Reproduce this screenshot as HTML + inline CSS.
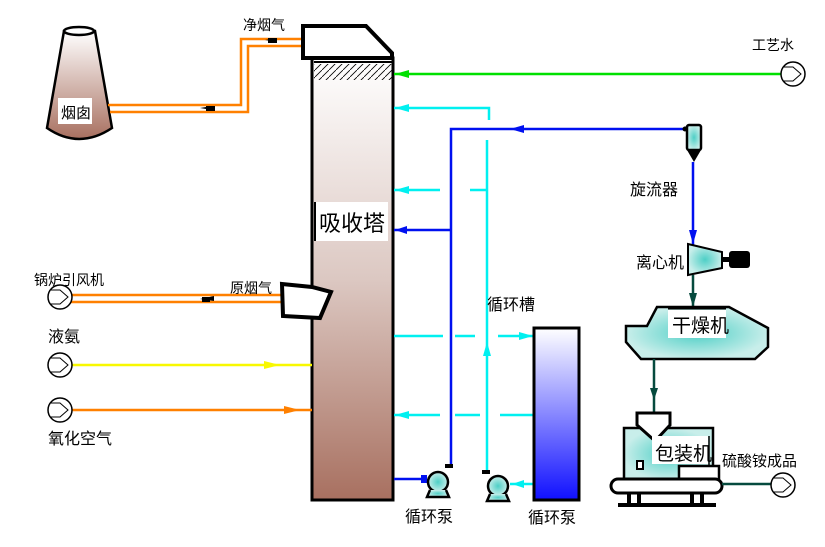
<!DOCTYPE html>
<html><head><meta charset="utf-8"><style>
body{margin:0;background:#fff}
svg{display:block}
text{font-family:"Liberation Sans","WenQuanYi Zen Hei","Noto Sans CJK SC",sans-serif;fill:#000}
</style></head><body>
<svg width="825" height="547" viewBox="0 0 825 547" xmlns="http://www.w3.org/2000/svg">
<defs>
<linearGradient id="tw" x1="0" y1="0" x2="0" y2="1"><stop offset="0" stop-color="#fff"/><stop offset="0.5" stop-color="#dcc8c2"/><stop offset="1" stop-color="#a87060"/></linearGradient>
<linearGradient id="ch" x1="0" y1="0" x2="0" y2="1"><stop offset="0" stop-color="#fff"/><stop offset="1" stop-color="#a87060"/></linearGradient>
<linearGradient id="tk" x1="0" y1="0" x2="0" y2="1"><stop offset="0" stop-color="#fff"/><stop offset="1" stop-color="#1010ff"/></linearGradient>
<radialGradient id="tq"><stop offset="0" stop-color="#4ecfc6"/><stop offset="1" stop-color="#c8eeea"/></radialGradient>
<pattern id="hat" width="7" height="7" patternUnits="userSpaceOnUse"><path d="M0 7L7 0" stroke="#000" stroke-width="0.8"/></pattern>
</defs>

<!-- chimney -->
<path d="M64 31 L47 128 Q79 150 112 128 L95 31 Z" fill="url(#ch)" stroke="#000" stroke-width="2.5"/>
<ellipse cx="79" cy="31" rx="15" ry="4" fill="#fff" stroke="#000" stroke-width="2.5"/>
<rect x="58" y="98" width="34" height="26" fill="#fff"/>
<text x="61" y="118" font-size="15">烟囱</text>

<!-- clean gas ducts -->
<path d="M302 39 H241 V105 H108" fill="none" stroke="#ff8000" stroke-width="2.5"/>
<path d="M302 46 H248 V112 H110" fill="none" stroke="#ff8000" stroke-width="2.5"/>
<path d="M265 40 l12 -2 v4z" fill="#000"/><rect x="268" y="38" width="9" height="5"/>
<path d="M200 108 l12 -2 v4z" fill="#000"/><rect x="206" y="106" width="9" height="5"/>
<text x="243" y="30" font-size="14">净烟气</text>

<!-- tower -->
<rect x="312" y="58" width="81" height="442" fill="url(#tw)" stroke="#000" stroke-width="3"/>
<rect x="314" y="64" width="78" height="16" fill="url(#hat)"/>
<line x1="314" y1="62" x2="392" y2="62" stroke="#000" stroke-width="2"/>
<path d="M303 26 H366 L392 53 V58 H303 Z" fill="#fff" stroke="#000" stroke-width="4"/>
<rect x="316" y="202" width="72" height="39" fill="#fff"/>
<line x1="315" y1="202" x2="315" y2="241" stroke="#000" stroke-width="2"/>
<text x="319" y="231" font-size="22">吸收塔</text>

<!-- green process water -->
<line x1="394" y1="74" x2="781" y2="74" stroke="#00e000" stroke-width="2.5"/>
<path d="M395 74 l14 -4 v8z" fill="#00e000"/>
<circle cx="793" cy="74" r="12" fill="#fff" stroke="#000" stroke-width="1.5"/>
<path d="M784 67 h9 l8 7 l-8 7 h-9" fill="none" stroke="#000" stroke-width="1"/>
<text x="752" y="50" font-size="14">工艺水</text>

<!-- cyan lines -->
<g stroke="#00f0f0" stroke-width="2.5" fill="none">
<path d="M394 108 H489 V120"/>
<line x1="487" y1="140" x2="487" y2="470"/>
<line x1="394" y1="190" x2="440" y2="190"/><line x1="470" y1="190" x2="487" y2="190"/>
<line x1="394" y1="336" x2="443" y2="336"/><line x1="455" y1="336" x2="475" y2="336"/><line x1="498" y1="336" x2="533" y2="336"/>
<line x1="394" y1="415" x2="440" y2="415"/><line x1="455" y1="415" x2="480" y2="415"/><line x1="500" y1="415" x2="533" y2="415"/>
<line x1="510" y1="484" x2="534" y2="484"/>
</g>
<g fill="#00f0f0">
<path d="M395 108 l14 -4 v8z"/><path d="M395 190 l14 -4 v8z"/><path d="M395 415 l14 -4 v8z"/>
<path d="M533 336 l-14 -4 v8z"/><path d="M487 342 l-4 14 h8z"/><path d="M512 484 l12 -4 v8z"/>
</g>

<!-- blue lines -->
<g stroke="#0010f0" stroke-width="2.5" fill="none">
<path d="M683 129 H451 V466"/>
<line x1="394" y1="230" x2="451" y2="230"/>
<line x1="394" y1="479" x2="425" y2="479"/>
<line x1="693" y1="162" x2="693" y2="245"/>
</g>
<g fill="#0010f0">
<path d="M510 129 l14 -4 v8z"/><path d="M395 230 l12 -4 v8z"/><path d="M693 244 l-4 -14 h8z"/><rect x="421" y="475" width="6" height="8"/>
</g>

<!-- cyclone -->
<rect x="687" y="125" width="14" height="25" rx="2" fill="url(#tq)" stroke="#000" stroke-width="2.5"/>
<path d="M687 150 h14 l-7 12z" fill="#000"/>
<circle cx="685" cy="129" r="2.5" fill="#000"/>
<text x="630" y="195" font-size="16">旋流器</text>

<!-- centrifuge -->
<path d="M688 244 L722 252 V268 L688 275 Z" fill="url(#tq)" stroke="#000" stroke-width="2"/>
<rect x="722" y="257" width="8" height="5"/>
<rect x="729" y="251" width="21" height="17" rx="3"/>
<text x="636" y="268" font-size="16">离心机</text>
<line x1="693" y1="275" x2="693" y2="308" stroke="#064a3e" stroke-width="2.5"/>
<path d="M693 307 l-4 -14 h8z" fill="#064a3e"/>

<!-- dryer -->
<path d="M657 307 H729 L768 328 V347 L755 359 H641 L626 342 V326 H647 Z" fill="url(#tq)" stroke="#000" stroke-width="2.5"/>
<line x1="668" y1="308" x2="726" y2="308" stroke="#000" stroke-width="3"/>
<rect x="668" y="310" width="58" height="28" fill="#fff"/>
<text x="672" y="332" font-size="19">干燥机</text>
<line x1="654" y1="359" x2="654" y2="412" stroke="#064a3e" stroke-width="2.5"/>
<path d="M654 400 l-4 -12 h8z" fill="#064a3e"/>

<!-- packager -->
<rect x="624" y="428" width="89" height="52" fill="url(#tq)" stroke="#000" stroke-width="2.5"/>
<path d="M637 413 H670 V425 L655 441 L637 425 Z" fill="#fff" stroke="#000" stroke-width="3"/>
<rect x="652" y="436" width="56" height="28" fill="#fff"/>
<line x1="709" y1="436" x2="709" y2="467" stroke="#000" stroke-width="1.5"/>
<text x="655" y="460" font-size="19">包装机</text>
<rect x="637" y="461" width="6" height="8" fill="#fff" stroke="#000" stroke-width="2"/>
<rect x="679" y="466" width="40" height="14" fill="#fff" stroke="#000" stroke-width="2.5"/>
<rect x="611" y="479" width="111" height="14" rx="7" fill="#fff" stroke="#000" stroke-width="3"/>
<g fill="#000"><rect x="627" y="493" width="4" height="13"/><rect x="637" y="493" width="4" height="13"/><rect x="690" y="493" width="4" height="13"/><rect x="700" y="493" width="4" height="13"/><rect x="618" y="503" width="98" height="4"/></g>
<line x1="722" y1="484" x2="772" y2="484" stroke="#064a3e" stroke-width="2.5"/>
<circle cx="783" cy="485" r="12" fill="#fff" stroke="#000" stroke-width="1.5"/>
<path d="M774 478 h9 l8 7 l-8 7 h-9" fill="none" stroke="#000" stroke-width="1"/>
<text x="722" y="466" font-size="15">硫酸铵成品</text>

<!-- tank -->
<rect x="534" y="328" width="45" height="172" fill="url(#tk)" stroke="#000" stroke-width="3"/>
<text x="487" y="310" font-size="16">循环槽</text>

<!-- pumps -->
<g stroke="#000" stroke-width="2.5" fill="url(#tq)">
<circle cx="438" cy="482" r="10"/><path d="M430 490 l-3 7 h22 l-3 -7"/>
<circle cx="498" cy="486" r="10"/><path d="M490 494 l-3 7 h22 l-3 -7"/>
</g>
<rect x="445" y="464" width="8" height="4"/><rect x="482" y="470" width="8" height="4"/>
<text x="405" y="522" font-size="16">循环泵</text>
<text x="528" y="523" font-size="16">循环泵</text>

<!-- raw gas inlet -->
<path d="M70 295 H282 M70 302 H282" stroke="#ff8000" stroke-width="2.5"/>
<path d="M200 299 l14 -3 v5z" fill="#000"/><rect x="202" y="297" width="8" height="5"/>
<path d="M282 284 L312 287 L331 292 L320 318 L283 316 Z" fill="#fff" stroke="#000" stroke-width="4"/>
<text x="230" y="293" font-size="14">原烟气</text>
<circle cx="60" cy="297" r="12" fill="#fff" stroke="#000" stroke-width="1.5"/>
<path d="M51 290 h9 l8 7 l-8 7 h-9" fill="none" stroke="#000" stroke-width="1"/>
<text x="34" y="285" font-size="14">锅炉引风机</text>

<!-- ammonia -->
<line x1="72" y1="365" x2="312" y2="365" stroke="#f8f800" stroke-width="2.5"/>
<path d="M280 365 l-16 -4 v8z" fill="#f8f800"/>
<circle cx="60" cy="365" r="12" fill="#fff" stroke="#000" stroke-width="1.5"/>
<path d="M51 358 h9 l8 7 l-8 7 h-9" fill="none" stroke="#000" stroke-width="1"/>
<text x="48" y="342" font-size="16">液氨</text>

<!-- oxidation air -->
<line x1="72" y1="410" x2="312" y2="410" stroke="#ff8000" stroke-width="2.5"/>
<path d="M300 410 l-16 -4 v8z" fill="#ff8000"/>
<circle cx="60" cy="410" r="12" fill="#fff" stroke="#000" stroke-width="1.5"/>
<path d="M51 403 h9 l8 7 l-8 7 h-9" fill="none" stroke="#000" stroke-width="1"/>
<text x="48" y="444" font-size="16">氧化空气</text>
</svg>
</body></html>
